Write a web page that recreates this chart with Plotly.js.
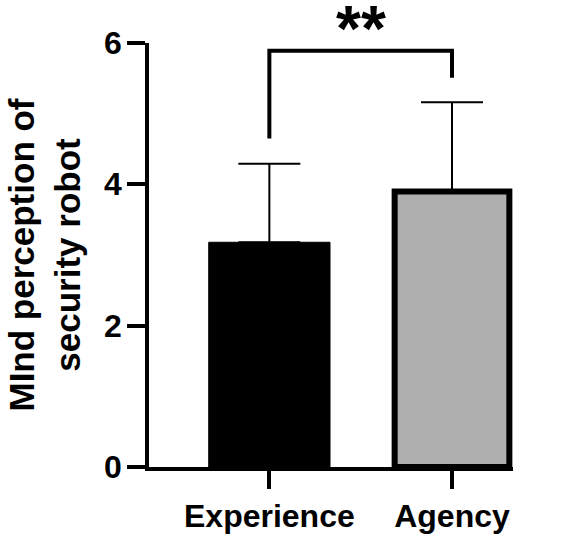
<!DOCTYPE html>
<html>
<head>
<meta charset="utf-8">
<script src="https://cdn.plot.ly/plotly-3.0.1.min.js"></script>
<style>html,body{margin:0;padding:0;background:#fff;}#chart{width:569px;height:540px;}</style>
</head>
<body>
<div id="chart"></div>
<script>
// Data
const categories = ['Experience', 'Agency'];
const means = [3.18, 3.90];
const sdUpper = [1.11, 1.26];
const barColors = ['#000000', '#afafaf'];
const yTickVals = [0, 2, 4, 6];
const yTickText = ['0', '2', '4', '6'];
// significance bracket: left foot, top, right foot
const bracketX = ['Experience', 'Experience', 'Agency', 'Agency'];
const bracketY = [4.65, 5.89, 5.89, 5.51];
const sigLabel = '**';

const FONT = 'Liberation Sans, Arial, Helvetica, sans-serif';

const traces = [
  {type: 'bar', x: categories, y: means, width: [0.664, 0.628],
    marker: {color: barColors, line: {color: ['#000000', '#000000'], width: [1, 6]}},
    error_y: {type: 'data', symmetric: false, array: sdUpper, arrayminus: [0, 0],
              color: '#000000', thickness: 2, width: 31}},
  {type: 'scatter', mode: 'lines', x: bracketX, y: bracketY,
    line: {color: '#000000', width: 4}, cliponaxis: false}
];

// y tick labels drawn as annotations tied to the y scale
const yLabelAnnotations = yTickVals.map((v, i) => ({
  x: 0, xref: 'paper', y: v, yref: 'y', text: yTickText[i], showarrow: false,
  xanchor: 'right', yanchor: 'middle', xshift: -25,
  font: {family: FONT, size: 32, weight: 'bold', color: '#000000'}
}));

const layout = {
  width: 569, height: 540,
  margin: {l: 149, r: 56, t: 43, b: 73},
  showlegend: false,
  font: {family: FONT, color: '#000000'},
  xaxis: {type: 'category', range: [-0.659, 1.334],
    showline: true, linecolor: '#000000', linewidth: 4,
    ticks: 'outside', ticklen: 18, tickwidth: 4, tickcolor: '#000000',
    showgrid: false, zeroline: false,
    tickfont: {family: FONT, size: 32, weight: 'bold', color: '#000000'}},
  yaxis: {range: [0, 6], tickvals: yTickVals, ticktext: yTickText,
    showticklabels: false,
    showline: true, linecolor: '#000000', linewidth: 4,
    ticks: 'outside', ticklen: 18, tickwidth: 4, tickcolor: '#000000',
    showgrid: false, zeroline: false,
    title: {text: 'MInd perception of<br>security robot',
            font: {family: FONT, size: 35, weight: 'bold', color: '#000000'}, standoff: 37}},
  annotations: [{x: 0.5, y: bracketY[1], xref: 'x', yref: 'y', text: sigLabel, showarrow: false,
     yanchor: 'bottom', yshift: -16,
     font: {family: FONT, size: 64, weight: 'bold', color: '#000000'}}].concat(yLabelAnnotations)
};

Plotly.newPlot('chart', traces, layout, {staticPlot: true});
</script>
</body>
</html>
